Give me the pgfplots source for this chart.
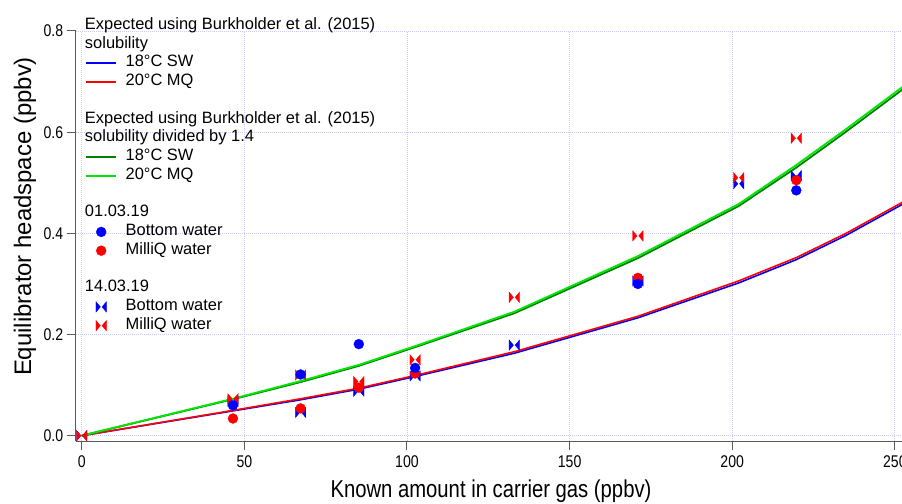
\documentclass[border=0pt]{standalone}
\usepackage{fontspec}
\setmainfont{Liberation Sans}
\newfontfamily\narrowfont[FakeStretch=0.83]{Liberation Sans}
\usepackage{pgfplots}
\pgfplotsset{compat=1.18}
\definecolor{cblue}{RGB}{0,0,255}
\definecolor{cred}{RGB}{255,0,0}
\definecolor{cdkgreen}{RGB}{0,128,0}
\definecolor{cgreen}{RGB}{0,230,0}
\definecolor{cgrid}{RGB}{205,205,252}
\definecolor{caxis}{RGB}{90,90,90}
\pgfdeclareplotmark{bowtie}{%
  \pgfpathmoveto{\pgfqpoint{-\pgfplotmarksize}{\pgfplotmarksize}}%
  \pgfpathlineto{\pgfqpoint{-0.15\pgfplotmarksize}{0pt}}%
  \pgfpathlineto{\pgfqpoint{-\pgfplotmarksize}{-\pgfplotmarksize}}%
  \pgfpathclose
  \pgfpathmoveto{\pgfqpoint{\pgfplotmarksize}{\pgfplotmarksize}}%
  \pgfpathlineto{\pgfqpoint{0.15\pgfplotmarksize}{0pt}}%
  \pgfpathlineto{\pgfqpoint{\pgfplotmarksize}{-\pgfplotmarksize}}%
  \pgfpathclose
  \pgfusepathqfillstroke}
\begin{document}
\begin{tikzpicture}
\begin{axis}[
  scale only axis,
  width=826.3bp, height=410bp,
  xmin=-1.85, xmax=252.2,
  ymin=-0.0105, ymax=0.8,
  axis lines=left,
  axis line style={-, draw=caxis, line width=1bp},
  tick align=outside,
  major tick length=9bp,
  tick style={draw=caxis, line width=1bp},
  xtick={0,50,100,150,200,250},
  ytick={0,0.2,0.4,0.6,0.8},
  minor tick num=0,
  grid=major,
  grid style={draw=cgrid, line width=0.8bp, dash pattern=on 1bp off 1bp},
  /pgf/number format/assume math mode=true,
  tick label style={font=\narrowfont\fontsize{17}{20}\selectfont},
  yticklabel style={/pgf/number format/.cd, fixed, fixed zerofill, precision=1},
  xticklabel style={yshift=-2.5bp, /pgf/number format/.cd, fixed, precision=0},
  xlabel={Known amount in carrier gas (ppbv)},
  ylabel={Equilibrator headspace (ppbv)},
  xlabel style={font=\narrowfont\fontsize{24.5}{28}\selectfont, at={(axis description cs:0.5026,-0.139)}, anchor=base, inner sep=0pt},
  ylabel style={font=\fontsize{24}{28}\selectfont, at={(axis description cs:-0.0541,0.5476)}, rotate=0, anchor=base, inner sep=0pt},
  legend cell align=left,
  legend image code/.code={\draw[mark repeat=2,mark phase=2,#1] plot coordinates {(0bp,0bp) (15.3bp,0bp) (30.6bp,0bp)};},
  legend style={draw=none, fill=none, at={(axis description cs:0,1)}, anchor=north west, xshift=9.3bp, yshift=14.7bp,
    inner sep=0pt, outer sep=0pt, row sep=0pt, column sep=8.3bp,
    font=\fontsize{16.5}{19}\selectfont,
    nodes={inner sep=0pt, outer sep=0pt, text height=13bp, text depth=5.75bp}},
]
\coordinate (sw) at (rel axis cs:0,0);
\coordinate (ne) at (rel axis cs:1,1);
% model curves
\addplot[forget plot, cblue, line width=1.6bp] coordinates {
 (0,0) (46.5,0.049) (67.3,0.071) (85.2,0.092) (102.5,0.117) (133,0.163) (171,0.233) (202,0.302) (219.7,0.348) (235,0.396) (252.5,0.458)};
\addplot[forget plot, cred, line width=1.6bp] coordinates {
 (0,0) (46.5,0.050) (67.3,0.073) (85.2,0.094) (102.5,0.119) (133,0.166) (171,0.236) (202,0.306) (219.7,0.352) (235,0.400) (252.5,0.462)};
\addplot[forget plot, cdkgreen, line width=1.8bp] coordinates {
 (0,0) (46.5,0.072) (67.3,0.106) (85.2,0.138) (102.5,0.175) (133,0.242) (171,0.351) (202,0.454) (219.7,0.530) (235,0.601) (252.5,0.685)};
\addplot[forget plot, cgreen, line width=1.8bp] coordinates {
 (0,0) (46.5,0.073) (67.3,0.108) (85.2,0.140) (102.5,0.177) (133,0.245) (171,0.355) (202,0.458) (219.7,0.535) (235,0.606) (252.5,0.690)};
% 14.03.19 bowties
\addplot[forget plot, only marks, mark=bowtie, mark size=5.2bp, draw=cblue, fill=cblue, line width=0.3bp] coordinates {
 (0,0) (46.5,0.068) (67.3,0.046) (85.2,0.088) (102.5,0.118) (133,0.179) (171,0.306) (202,0.498) (219.7,0.514)};
\addplot[forget plot, only marks, mark=bowtie, mark size=5.2bp, draw=cred, fill=cred, line width=0.3bp] coordinates {
 (0,0) (46.5,0.073) (67.3,0.120) (85.2,0.107) (102.5,0.150) (133,0.2735) (171,0.395) (202,0.510) (219.7,0.588)};
% 01.03.19 circles
\addplot[forget plot, only marks, mark=*, mark size=5bp, draw=cred, fill=cred, line width=0.3bp] coordinates {
 (46.5,0.034) (67.3,0.054) (85.2,0.095) (102.5,0.123) (171,0.312) (219.7,0.505)};
\addplot[forget plot, only marks, mark=*, mark size=5bp, draw=cblue, fill=cblue, line width=0.3bp] coordinates {
 (46.5,0.060) (67.3,0.121) (85.2,0.181) (102.5,0.134) (171,0.300) (219.7,0.485)};
% legend
\addlegendimage{empty legend}\addlegendentry{\hspace{-40.7bp}Expected using Burkholder et al. (2015)}
\addlegendimage{empty legend}\addlegendentry{\hspace{-40.7bp}solubility}
\addlegendimage{cblue, line width=1.6bp}\addlegendentry{18°C SW}
\addlegendimage{cred, line width=1.6bp}\addlegendentry{20°C MQ}
\addlegendimage{empty legend}\addlegendentry{\mbox{}}
\addlegendimage{empty legend}\addlegendentry{\hspace{-40.7bp}Expected using Burkholder et al. (2015)}
\addlegendimage{empty legend}\addlegendentry{\hspace{-40.7bp}solubility divided by 1.4}
\addlegendimage{cdkgreen, line width=1.8bp}\addlegendentry{18°C SW}
\addlegendimage{cgreen, line width=1.8bp}\addlegendentry{20°C MQ}
\addlegendimage{empty legend}\addlegendentry{\mbox{}}
\addlegendimage{empty legend}\addlegendentry{\hspace{-40.7bp}01.03.19}
\addlegendimage{only marks, mark=*, mark size=5bp, draw=cblue, fill=cblue, line width=0.3bp}\addlegendentry{Bottom water}
\addlegendimage{only marks, mark=*, mark size=5bp, draw=cred, fill=cred, line width=0.3bp}\addlegendentry{MilliQ water}
\addlegendimage{empty legend}\addlegendentry{\mbox{}}
\addlegendimage{empty legend}\addlegendentry{\hspace{-40.7bp}14.03.19}
\addlegendimage{only marks, mark=bowtie, mark size=5.2bp, draw=cblue, fill=cblue, line width=0.3bp}\addlegendentry{Bottom water}
\addlegendimage{only marks, mark=bowtie, mark size=5.2bp, draw=cred, fill=cred, line width=0.3bp}\addlegendentry{MilliQ water}
\end{axis}
\pgfresetboundingbox
\path[use as bounding box] ([xshift=-75.7bp,yshift=-63bp]sw) rectangle ([yshift=31bp]ne);
\end{tikzpicture}
\end{document}
